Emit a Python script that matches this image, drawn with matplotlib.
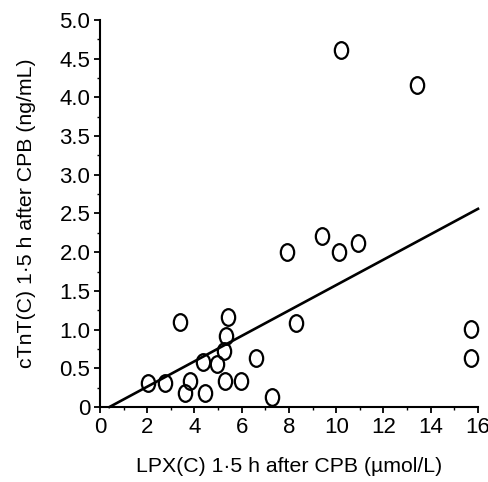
"""Scatter of cTnT(C) against LPX(C), both 1.5 h after CPB, with fitted line."""

import matplotlib

matplotlib.use("Agg")

import matplotlib.pyplot as plt
from matplotlib.path import Path
from matplotlib.transforms import Affine2D
from matplotlib.ticker import MultipleLocator

# values
lpx = [2.05, 2.75, 3.4, 3.6, 3.8, 4.35, 4.45, 4.95, 5.25, 5.35, 5.4, 5.3,
       5.95, 6.6, 7.3, 7.9, 8.3, 9.4, 10.1, 10.9, 10.2, 13.4, 15.7, 15.7]
ctnt = [0.31, 0.31, 1.10, 0.18, 0.34, 0.58, 0.18, 0.56, 0.72, 0.92, 1.16, 0.34,
        0.33, 0.63, 0.13, 2.00, 1.09, 2.21, 2.00, 2.12, 4.61, 4.16, 1.01, 0.63]

fit_x = [0.4, 16.0]
fit_y = [0.0, 2.56]

y_ticks = [0, 0.5, 1, 1.5, 2, 2.5, 3, 3.5, 4, 4.5, 5]
y_tick_labels = ["0", "0.5", "1.0", "1.5", "2.0", "2.5", "3.0", "3.5",
                 "4.0", "4.5", "5.0"]

X_LABEL = "LPX(C) 1·5 h after CPB (µmol/L)"
Y_LABEL = "cTnT(C) 1·5 h after CPB (ng/mL)"

plt.rcParams["font.family"] = ["Liberation Sans", "DejaVu Sans"]

# slightly tall open ellipse, like the hand-drawn circles in the original
circle = Path.unit_circle()
ellipse = Path(Affine2D().scale(0.8, 1.0).transform(circle.vertices), circle.codes)

fig = plt.figure(figsize=(4.89, 4.82), dpi=100)
ax = fig.add_axes([0.2045, 0.1556, 0.773, 0.803])

ax.plot(lpx, ctnt, linestyle="none", marker=ellipse, markersize=12,
        markerfacecolor="none", markeredgecolor="black", markeredgewidth=1.6,
        clip_on=False, zorder=3)
ax.plot(fit_x, fit_y, color="black", linewidth=1.9, clip_on=False)

ax.set_xlim(0, 16)
ax.set_ylim(0, 5.0)
ax.xaxis.set_major_locator(MultipleLocator(2))
ax.xaxis.set_minor_locator(MultipleLocator(1))
ax.yaxis.set_minor_locator(MultipleLocator(0.25))
ax.set_yticks(y_ticks)
ax.set_yticklabels(y_tick_labels)

for side in ("top", "right"):
    ax.spines[side].set_visible(False)
for side in ("left", "bottom"):
    ax.spines[side].set_linewidth(1.5)

ax.tick_params(which="major", direction="out", length=4, width=1.3,
               labelsize=16, pad=3)
ax.tick_params(which="minor", direction="out", length=2.5, width=1.0)

ax.set_xlabel(X_LABEL, fontsize=15.3, labelpad=14)
ax.set_ylabel(Y_LABEL, fontsize=15.3, labelpad=17)

fig.savefig("out.png", dpi=100)
